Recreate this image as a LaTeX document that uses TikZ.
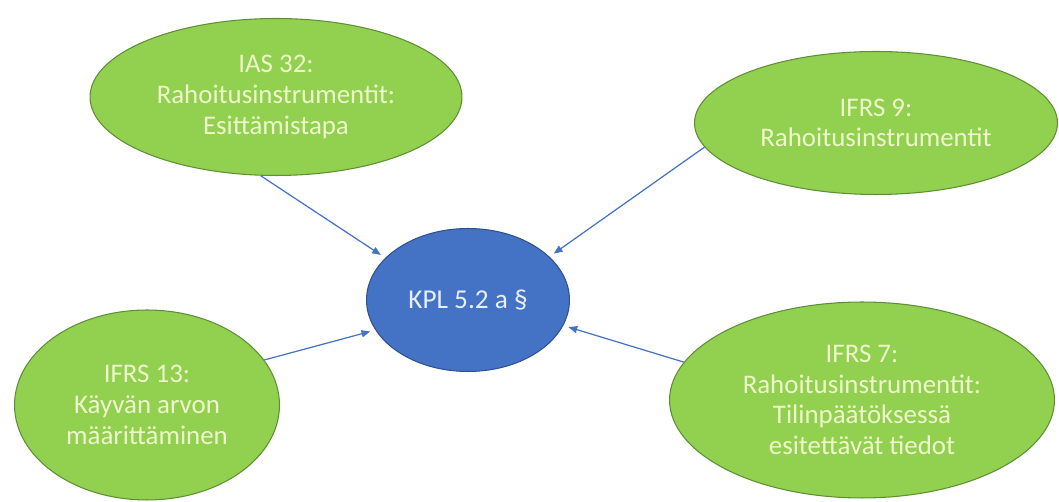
\documentclass[tikz,border=0pt]{standalone}
\usepackage{fontspec}
\setmainfont{Carlito}
\usepackage{tikz}
\usetikzlibrary{arrows.meta,shapes.geometric}
\definecolor{leafFill}{HTML}{92D050}
\definecolor{leafLine}{HTML}{5F8F35}
\definecolor{leafText}{HTML}{EEF6CC}
\definecolor{hubFill}{HTML}{4472C4}
\definecolor{hubLine}{HTML}{2F528F}
\definecolor{hubText}{HTML}{E8EEF8}

\begin{document}
\begin{tikzpicture}[x=0.02cm, y=-0.02cm,
    leaf/.style={ellipse, draw=leafLine, line width=0.6pt, fill=leafFill, text=leafText,
      inner sep=0pt, align=center, font=\fontsize{15.3}{17.5}\selectfont},
    hub/.style={ellipse, draw=hubLine, line width=0.6pt, fill=hubFill, text=hubText,
      inner sep=0pt, align=center, font=\fontsize{15.5}{18}\selectfont},
    feed/.style={draw=hubFill, line width=0.7pt, -{Triangle[length=5pt,width=4pt]}, shorten >=3pt}]
      \useasboundingbox (0,0) rectangle (1059,502);

      % --- the law in the middle ---
      \node[hub, minimum width=4.06cm, minimum height=2.86cm] (kpl) at (468,300) {KPL 5.2 a §};

      % --- standards round it ---
      \node[leaf, minimum width=7.44cm, minimum height=3.14cm] (ias32) at (276,97)
        {IAS 32:\\Rahoitusinstrumentit:\\Esittämistapa};
      \node[leaf, minimum width=7.26cm, minimum height=2.86cm] (ifrs9) at (876,123)
        {IFRS 9:\\Rahoitusinstrumentit};
      \node[leaf, minimum width=5.3cm, minimum height=3.8cm] (ifrs13) at (147,405)
        {IFRS 13:\\Käyvän arvon\\määrittäminen};
      \node[leaf, minimum width=7.7cm, minimum height=3.92cm] (ifrs7) at (862,400)
        {IFRS 7:\\Rahoitusinstrumentit:\\Tilinpäätöksessä\\esitettävät tiedot};

      % --- arrows into the hub ---
      \draw[feed] (ias32.259) -- (kpl.153);
      \draw[feed] (ifrs9.188) -- (kpl.28);
      \draw[feed] (ifrs13.21) -- (kpl.198);
      \draw[feed] (ifrs7.168) -- (kpl.345);
\end{tikzpicture}
\end{document}
